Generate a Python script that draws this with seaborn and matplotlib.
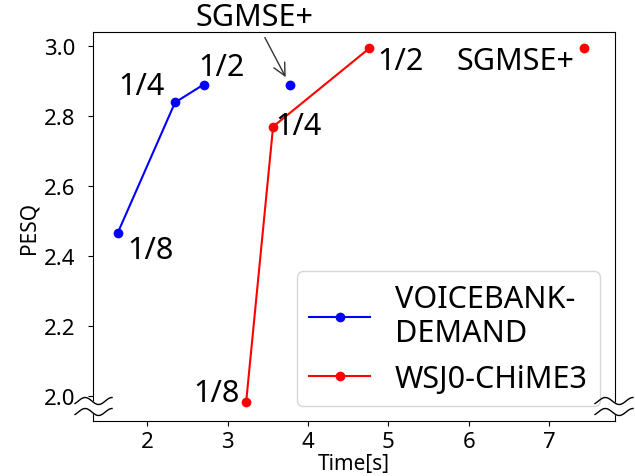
import numpy as np
import matplotlib
matplotlib.use("Agg")
import matplotlib.pyplot as plt
import seaborn as sns

plt.rcParams['font.family'] = ['Noto Sans', 'DejaVu Sans']

# datos
vb_time = [1.63, 2.345, 2.70]
vb_pesq = [2.466, 2.839, 2.89]
wsj_time = [3.23, 3.565, 4.76]
wsj_pesq = [1.985, 2.77, 2.993]
ratios = ["1/8", "1/4", "1/2"]
sgmse_vb = (3.77, 2.89)
sgmse_wsj = (7.43, 2.993)

fig = plt.figure(figsize=(6.35, 4.77), dpi=100)
ax = fig.add_axes([0.1465, 0.1153, 0.822, 0.8155])

sns.lineplot(x=vb_time, y=vb_pesq, sort=False, color="blue", marker="o", markersize=7,
             markeredgewidth=0, label="VOICEBANK-\nDEMAND", ax=ax)
sns.lineplot(x=wsj_time, y=wsj_pesq, sort=False, color="red", marker="o", markersize=7,
             markeredgewidth=0, label="WSJ0-CHiME3", ax=ax)
sns.scatterplot(x=[sgmse_vb[0]], y=[sgmse_vb[1]], color="blue", s=50, linewidth=0, ax=ax)
sns.scatterplot(x=[sgmse_wsj[0]], y=[sgmse_wsj[1]], color="red", s=50, linewidth=0, ax=ax)

# etiquetas de cada punto
fs = 22
vb_lbl_pos = [(2.04, 2.419), (1.93, 2.885), (2.92, 2.94)]
wsj_lbl_pos = [(2.86, 2.01), (3.88, 2.773), (5.15, 2.956)]
for r, (x, y) in zip(ratios, vb_lbl_pos):
    ax.text(x, y, r, fontsize=fs, ha="center", va="center")
for r, (x, y) in zip(ratios, wsj_lbl_pos):
    ax.text(x, y, r, fontsize=fs, ha="center", va="center")
ax.text(6.585, 2.956, "SGMSE+", fontsize=fs, ha="center", va="center")
ax.annotate("SGMSE+", xy=sgmse_vb, xytext=(3.33, 3.082), fontsize=fs,
            ha="center", va="center", annotation_clip=False,
            arrowprops=dict(arrowstyle="->", color="#333333", shrinkA=2, shrinkB=6))

ax.set_xlim(1.324, 7.82)
ax.set_ylim(1.93, 3.04)
ax.set_xticks([2, 3, 4, 5, 6, 7])
ax.set_yticks([2.0, 2.2, 2.4, 2.6, 2.8, 3.0])
ax.tick_params(labelsize=16)
ax.tick_params(axis="y", pad=9)
ax.set_xlabel("Time[s]", fontsize=15, labelpad=1)
ax.set_ylabel("PESQ", fontsize=15, labelpad=3)
ax.legend(loc="lower right", fontsize=fs, handlelength=2.0)

# marcas de corte del eje (≈)
bbox = ax.get_window_extent()
wpx, hpx = bbox.width, bbox.height
th = np.linspace(-np.pi / 4, 5 * np.pi / 2, 60)
t = (th - th[0]) / (th[-1] - th[0])
amp = 3.5 / hpx
for xc, x0, x1 in [(0.0, -18, 19), (1.0, -20, 18)]:
    xs = xc + (x0 + (x1 - x0) * t) / wpx
    yu = 20 / 389 + amp * np.sin(th)
    yl = 9 / 389 + amp * np.sin(th)
    ax.fill(np.concatenate([xs, xs[::-1]]), np.concatenate([yu, yl[::-1]]),
            color="white", transform=ax.transAxes, clip_on=False, zorder=5)
    for yy in (yu, yl):
        ax.plot(xs, yy, color="black", lw=1.0, transform=ax.transAxes,
                clip_on=False, zorder=6)

plt.savefig("out.png", dpi=100)
plt.close()
